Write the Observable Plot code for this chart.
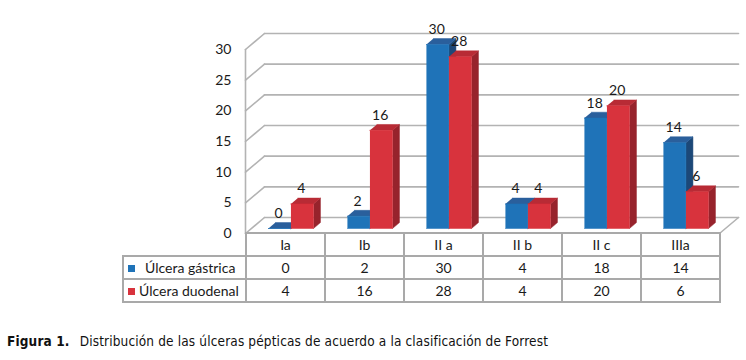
<!DOCTYPE html>
<html><head><meta charset="utf-8">
<script src="https://cdn.jsdelivr.net/npm/d3@7"></script>
<script src="https://cdn.jsdelivr.net/npm/@observablehq/plot@0.6"></script>
<style>
body{margin:0;background:#fff;}
#wrap{position:relative;width:746px;height:360px;overflow:hidden;}
#chart{position:absolute;left:0;top:0;}
#tbl{position:absolute;left:122px;top:232px;border-collapse:collapse;table-layout:fixed;font-family:Lato,sans-serif;font-size:14px;color:#1a1a1a;}
#tbl td{border:2px solid #a9a9a9;height:21px;padding:0;text-align:center;white-space:nowrap;}
#tbl td.empty{border-top:none;border-left:none;}
#tbl td.leg{text-align:left;padding-left:4px;}
.sw{display:inline-block;width:7px;height:7px;vertical-align:1px;}
#cap{position:absolute;left:7px;top:333px;font-family:"DejaVu Sans Condensed","DejaVu Sans",sans-serif;font-stretch:condensed;font-size:13.5px;line-height:16px;letter-spacing:0.15px;color:#111;white-space:nowrap;}
#cap b{margin-right:6px;}
</style>
</head><body>
<div id="wrap"><div id="chart"></div><table id="tbl"></table><div id="cap"></div></div>
<script>
const categories = ["Ia", "Ib", "II a", "II b", "II c", "IIIa"];
const gastrica = [0, 2, 30, 4, 18, 14];
const duodenal = [4, 16, 28, 4, 20, 6];
const seriesNames = ["Úlcera gástrica", "Úlcera duodenal"];
const yTicks = [0, 5, 10, 15, 20, 25, 30];
const captionLabel = "Figura 1.";
const captionText = "Distribución de las úlceras pépticas de acuerdo a la clasificación de Forrest";

const colors = {
  front: ["#1f73b8", "#d8333d"],
  top: ["#2a5f9c", "#b82b35"],
  side: ["#1c4878", "#97232c"]
};
const swatchGap = [10, 4];

// 3D projection in data units
const DX = 19 / 79, DY = 16 * 30 / 184;
const f0 = 0.3125, f1 = f0 + 7 / 19, bw = 0.285;
const P = (x, y, d) => ({x: x + d * DX, y: y + d * DY});

const series = [gastrica, duodenal];
const faces = {front: [[], []], top: [[], []], side: [[], []]};
const labels = [];
series.forEach((vals, s) => {
  vals.forEach((v, i) => {
    const xa = i + 0.5 + (s === 0 ? -bw : 0), xb = xa + bw;
    const id = s + "-" + i;
    [P(xa, 0, f0), P(xb, 0, f0), P(xb, v, f0), P(xa, v, f0)].forEach(p => faces.front[s].push({...p, id}));
    [P(xa, v, f0), P(xb, v, f0), P(xb, v, f1), P(xa, v, f1)].forEach(p => faces.top[s].push({...p, id}));
    [P(xb, 0, f0), P(xb, 0, f1), P(xb, v, f1), P(xb, v, f0)].forEach(p => faces.side[s].push({...p, id}));
    const c = P(xa + bw / 2, v, f0);
    labels.push({x: c.x, y: c.y, text: String(v)});
  });
});

const grid = [];
yTicks.forEach(t => {
  grid.push({...P(0, t, 1), id: "b" + t}, {...P(6, t, 1), id: "b" + t});
  grid.push({...P(0, t, 0), id: "l" + t}, {...P(0, t, 1), id: "l" + t});
});
grid.push({...P(0, 0, 0), id: "v"}, {...P(0, 30, 0), id: "v"});
grid.push({...P(6, 0, 0), id: "r"}, {...P(6, 0, 1), id: "r"});

const marks = [
  Plot.line(grid, {x: "x", y: "y", z: "id", stroke: "#b3b3b3", strokeWidth: 1.6}),
  Plot.axisY(yTicks, {tickSize: 0, tickPadding: 14, fontSize: 14, fill: "#1a1a1a", label: null})
];
for (let s = 0; s < 2; s++) {
  for (const f of ["side", "top", "front"]) {
    marks.push(Plot.line(faces[f][s], {x: "x", y: "y", z: "id", fill: colors[f][s], stroke: colors[f][s], strokeWidth: 0.5}));
  }
}
marks.push(Plot.text(labels, {x: "x", y: "y", text: "text", dy: -15, dx: -1, fontSize: 14, fill: "#1a1a1a"}));

const chart = Plot.plot({
  width: 746, height: 240,
  marginLeft: 245, marginRight: 27, marginTop: 49, marginBottom: 7,
  x: {domain: [0, 6], axis: null},
  y: {domain: [0, 30], axis: null, label: null},
  style: {fontFamily: "Lato, sans-serif", fontSize: "14px", overflow: "visible", background: "transparent"},
  marks
});
document.getElementById("chart").appendChild(chart);

// data table
const tbl = document.getElementById("tbl");
const cg = document.createElement("colgroup");
[123, 79, 79, 79, 79, 79, 79].forEach(w => { const c = document.createElement("col"); c.style.width = w + "px"; cg.appendChild(c); });
tbl.appendChild(cg);
const hr = tbl.insertRow();
const e = hr.insertCell(); e.className = "empty";
categories.forEach(c => { hr.insertCell().textContent = c; });
series.forEach((vals, s) => {
  const r = tbl.insertRow();
  const lc = r.insertCell(); lc.className = "leg";
  const sw = document.createElement("span"); sw.className = "sw"; sw.style.background = colors.front[s];
  sw.style.marginRight = swatchGap[s] + "px";
  lc.appendChild(sw); lc.appendChild(document.createTextNode(seriesNames[s]));
  vals.forEach(v => { r.insertCell().textContent = v; });
});
const cap = document.getElementById("cap");
const b = document.createElement("b"); b.textContent = captionLabel;
cap.appendChild(b); cap.appendChild(document.createTextNode(" " + captionText));
</script>
</body></html>
